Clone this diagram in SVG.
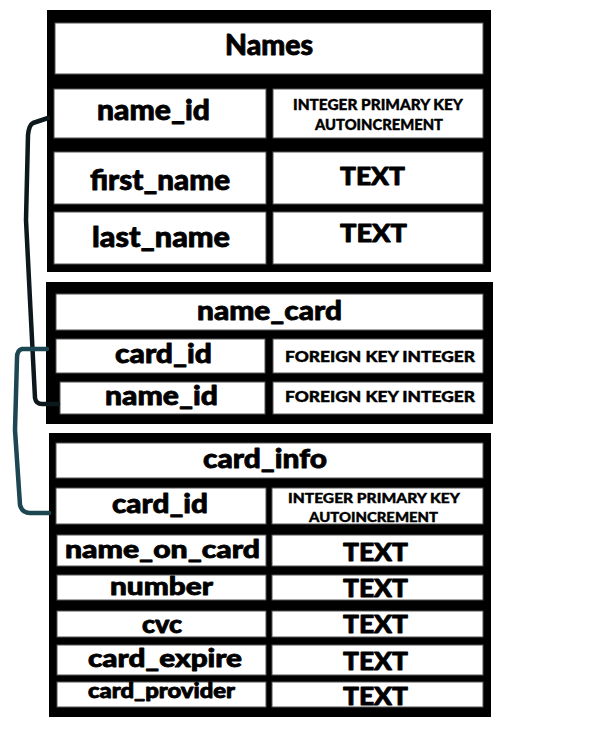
<svg xmlns="http://www.w3.org/2000/svg" width="600" height="735" viewBox="0 0 600 735">
<style>
.tbl{fill:#000}
.cell{fill:#fff;stroke:#555;stroke-width:1}
text{font-family:"Lato","DejaVu Sans",sans-serif;font-weight:900;fill:#000;stroke:#000;stroke-width:0.8;stroke-linejoin:round}
.h{font-size:28px}
.f{font-size:27px}
.t{font-size:24px}
.s{font-size:15px;stroke-width:0.4}
.conn{fill:none;stroke-width:4.5;stroke-linecap:round;stroke-linejoin:round}
</style>
<rect width="600" height="735" fill="#fff"/>
<g id="names">
<rect class="tbl" x="47" y="10" width="444" height="262"/>
<rect class="cell" x="55" y="23" width="428" height="51"/>
<rect class="cell" x="54" y="89" width="212" height="49"/>
<rect class="cell" x="273" y="89" width="210" height="49"/>
<rect class="cell" x="54" y="152" width="212" height="52"/>
<rect class="cell" x="273" y="152" width="210" height="52"/>
<rect class="cell" x="54" y="212" width="212" height="52"/>
<rect class="cell" x="273" y="212" width="210" height="52"/>
<text class="h" x="225" y="55" textLength="88" lengthAdjust="spacingAndGlyphs">Names</text>
<text class="h" x="97" y="120" textLength="113" lengthAdjust="spacingAndGlyphs">name_id</text>
<text class="s" x="293" y="110" textLength="170" lengthAdjust="spacingAndGlyphs">INTEGER PRIMARY KEY</text>
<text class="s" x="315" y="130" textLength="128" lengthAdjust="spacingAndGlyphs">AUTOINCREMENT</text>
<text class="h" x="90" y="190" textLength="140" lengthAdjust="spacingAndGlyphs">first_name</text>
<text class="t" x="340" y="185" textLength="65" lengthAdjust="spacingAndGlyphs">TEXT</text>
<text class="h" x="92" y="247" textLength="138" lengthAdjust="spacingAndGlyphs">last_name</text>
<text class="t" x="340" y="242" textLength="67" lengthAdjust="spacingAndGlyphs">TEXT</text>
</g>
<g id="name_card">
<rect class="tbl" x="46" y="282" width="447" height="142"/>
<rect class="cell" x="56" y="294" width="427" height="36"/>
<rect class="cell" x="56" y="339" width="209" height="34"/>
<rect class="cell" x="273" y="339" width="210" height="34"/>
<rect class="cell" x="60" y="382" width="205" height="32"/>
<rect class="cell" x="273" y="382" width="210" height="32"/>
<text class="f" x="197" y="320" textLength="145" lengthAdjust="spacingAndGlyphs">name_card</text>
<text class="f" x="115" y="363" textLength="97" lengthAdjust="spacingAndGlyphs">card_id</text>
<text class="s" x="285" y="362" textLength="190" lengthAdjust="spacingAndGlyphs">FOREIGN KEY INTEGER</text>
<text class="f" x="105" y="405" textLength="113" lengthAdjust="spacingAndGlyphs">name_id</text>
<text class="s" x="285" y="402" textLength="190" lengthAdjust="spacingAndGlyphs">FOREIGN KEY INTEGER</text>
</g>
<g id="card_info">
<rect class="tbl" x="49" y="433" width="442" height="284"/>
<rect class="cell" x="56" y="443" width="427" height="35"/>
<rect class="cell" x="56" y="488" width="210" height="36"/>
<rect class="cell" x="272" y="488" width="211" height="36"/>
<rect class="cell" x="57" y="535" width="209" height="31"/>
<rect class="cell" x="272" y="535" width="211" height="31"/>
<rect class="cell" x="57" y="575" width="209" height="25"/>
<rect class="cell" x="272" y="575" width="211" height="25"/>
<rect class="cell" x="57" y="611" width="209" height="26"/>
<rect class="cell" x="272" y="611" width="211" height="26"/>
<rect class="cell" x="57" y="645" width="209" height="30"/>
<rect class="cell" x="272" y="645" width="211" height="30"/>
<rect class="cell" x="57" y="682" width="209" height="25"/>
<rect class="cell" x="272" y="682" width="211" height="25"/>
<text class="f" x="203" y="468" textLength="124" lengthAdjust="spacingAndGlyphs">card_info</text>
<text class="f" x="112" y="513" textLength="96" lengthAdjust="spacingAndGlyphs">card_id</text>
<text class="s" style="font-size:14px" x="288" y="503" textLength="172" lengthAdjust="spacingAndGlyphs">INTEGER PRIMARY KEY</text>
<text class="s" style="font-size:14px" x="309" y="522" textLength="129" lengthAdjust="spacingAndGlyphs">AUTOINCREMENT</text>
<text style="font-size:24px" x="65" y="558" textLength="195" lengthAdjust="spacingAndGlyphs">name_on_card</text>
<text class="t" x="343" y="561" textLength="65" lengthAdjust="spacingAndGlyphs">TEXT</text>
<text style="font-size:25px" x="110" y="595" textLength="103" lengthAdjust="spacingAndGlyphs">number</text>
<text class="t" x="343" y="597" textLength="65" lengthAdjust="spacingAndGlyphs">TEXT</text>
<text style="font-size:24px" x="142" y="633" textLength="40" lengthAdjust="spacingAndGlyphs">cvc</text>
<text class="t" x="343" y="633" textLength="65" lengthAdjust="spacingAndGlyphs">TEXT</text>
<text style="font-size:24px" x="88" y="667" textLength="154" lengthAdjust="spacingAndGlyphs">card_expire</text>
<text class="t" x="343" y="670" textLength="65" lengthAdjust="spacingAndGlyphs">TEXT</text>
<text style="font-size:20px" x="88" y="698" textLength="147" lengthAdjust="spacingAndGlyphs">card_provider</text>
<text class="t" x="343" y="705" textLength="65" lengthAdjust="spacingAndGlyphs">TEXT</text>
</g>
<g id="connectors">
<path class="conn" stroke="#0d181c" d="M48,118 L33,123 Q29,125 28,135 L26,220 L30,300 L35,398 Q36,404 42,404 L58,404"/>
<path class="conn" stroke="#1c4651" d="M47,349 L22,349 Q17,350 17,358 L15,430 L20,505 Q22,513 30,513 L49,513"/>
</g>
</svg>
